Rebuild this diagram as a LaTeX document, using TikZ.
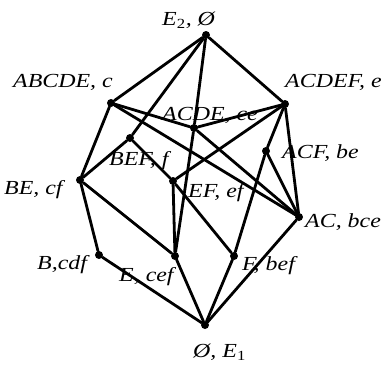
\documentclass[tikz,border=0pt]{standalone}
\usepackage{fontspec}
\setmainfont{Liberation Serif}
\begin{document}
\begin{tikzpicture}[x=1bp,y=-1bp,
  dot/.style={circle,fill=black,inner sep=0pt,minimum size=8bp},
  lab/.style={inner sep=0pt,anchor=base west,font=\fontsize{20}{22}\selectfont\itshape},
  edge/.style={line width=2.8bp,line cap=round}]
\useasboundingbox (0,0) rectangle (381,365);
\newcommand{\sx}[1]{\scalebox{1.2}[1]{#1}}
% vertices
\node[dot] (top) at (206,35) {};
\node[dot] (abcde) at (111,103) {};
\node[dot] (acdef) at (285,104) {};
\node[dot] (acde) at (194,128) {};
\node[dot] (bef) at (130,138) {};
\node[dot] (acf) at (266,151) {};
\node[dot] (be) at (80,180) {};
\node[dot] (ef) at (173,181) {};
\node[dot] (ac) at (299,217) {};
\node[dot] (b) at (99,255) {};
\node[dot] (e) at (175,256) {};
\node[dot] (f) at (234,256) {};
\node[dot] (bot) at (205,325) {};
% edges
\foreach \u/\v in {top/abcde,top/acdef,top/bef,top/acde,
  abcde/be,abcde/acde,abcde/ac,
  acdef/acde,acdef/ef,acdef/acf,acdef/ac,
  acde/ac,acde/e,
  bef/be,bef/ef,
  ef/e,ef/f,
  be/b,be/e,
  acf/f,acf/ac,
  b/bot,e/bot,f/bot,ac/bot}
  \draw[edge] (\u) -- (\v);
% labels
\node[lab] (ltop) at (162,25) {\sx{E\textsubscript{\upshape 2}, Ø}};
\node[lab] (labcde) at (13,87) {\sx{ABCDE,  c}};
\node[lab] (lacdef) at (285,87) {\sx{ACDEF, e}};
\node[lab] (lacde) at (162,120) {\sx{ACDE,  ce}};
\node[lab] (lbef) at (109,165) {\sx{BEF, f}};
\node[lab] (lacf) at (282,158) {\sx{ACF,  be}};
\node[lab] (lbe) at (4,194) {\sx{BE, cf}};
\node[lab] (lef) at (188,197) {\sx{EF, ef}};
\node[lab] (lac) at (305,227) {\sx{AC,  bce}};
\node[lab] (lb) at (37,269) {\sx{B,cdf}};
\node[lab] (le) at (119,281) {\sx{E,  cef}};
\node[lab] (lf) at (242,270) {\sx{F,  bef}};
\node[lab] (lbot) at (193,357) {\sx{Ø, E\textsubscript{\upshape 1}}};
\end{tikzpicture}
\end{document}
